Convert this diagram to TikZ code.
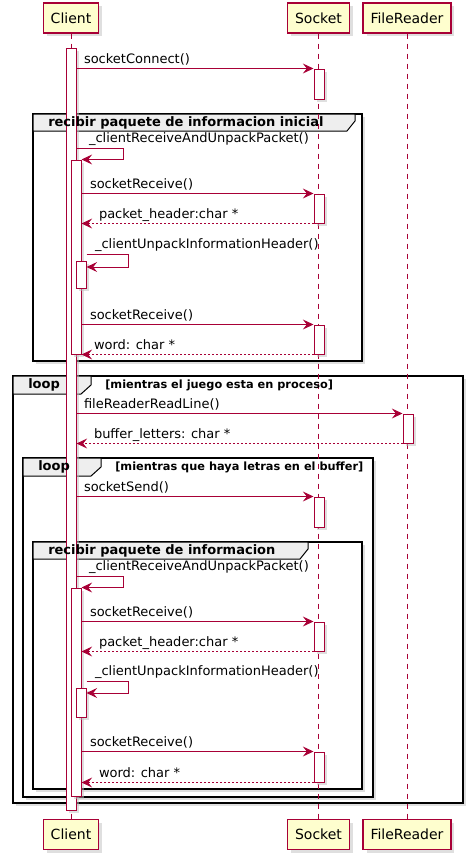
\documentclass[tikz,border=0pt]{standalone}
\usepackage{fontspec}
\setmainfont{DejaVu Sans}
\usepackage{xcolor}
\usetikzlibrary{arrows.meta, positioning, fit, shadows}
\definecolor{umlred}{HTML}{A80036}
\definecolor{umlfill}{HTML}{FEFECE}
\definecolor{tabgray}{HTML}{EEEEEE}

\begin{document}
\begin{tikzpicture}[x=0.75pt, y=-0.75pt,
    shad/.style={drop shadow={shadow xshift=2.5pt, shadow yshift=-2.5pt, fill=black!25}},
    actor/.style={draw=umlred, line width=1.1pt, fill=umlfill, minimum height=22.5pt,
      inner xsep=5.5pt, font=\fontsize{10.5}{12}\selectfont, shad},
    life/.style={umlred, line width=0.75pt, dash pattern=on 3.75pt off 3.75pt},
    act/.style={draw=umlred, line width=0.75pt, fill=white, inner sep=0pt, shad},
    msg/.style={umlred, line width=0.75pt, -{Stealth[length=8pt, width=7.5pt, inset=3pt]}},
    ret/.style={msg, dash pattern=on 1.5pt off 1.5pt},
    lbl/.style={font=\fontsize{9.75}{11}\selectfont, text=black, inner xsep=0pt,
      inner ysep=1.5pt, text height=7.5pt, text depth=2pt, anchor=south west},
    frame/.style={draw=black, line width=1.5pt, fill=white, shad},
    tab/.style={draw=black, line width=0.75pt, fill=tabgray},
    ftitle/.style={font=\fontsize{9.75}{11}\selectfont\bfseries, anchor=west, inner sep=0pt},
    guard/.style={font=\fontsize{8.5}{10}\selectfont\bfseries, anchor=west, inner sep=0pt},
  ]
    \useasboundingbox (0,0) rectangle (473,860);

    % frames
    \draw[frame] (33,114) rectangle (362,361);
    \draw[tab] (33,114) -- (355,114) -- (355,121) -- (347,131) -- (33,131) -- cycle;

    \draw[frame] (13,376) rectangle (463,803);
    \draw[tab] (13,376) -- (91,376) -- (91,385) -- (81,394) -- (13,394) -- cycle;

    \draw[frame] (23,458) rectangle (373,797);
    \draw[tab] (23,458) -- (101,458) -- (101,467) -- (91,476) -- (23,476) -- cycle;

    \draw[frame] (33,542) rectangle (362,789);
    \draw[tab] (33,542) -- (308,542) -- (308,549) -- (300,559) -- (33,559) -- cycle;

    % participants
    \node[actor] (cT) at (71,18) {Client};
    \node[actor] (sT) at (318.5,18) {Socket};
    \node[actor] (fT) at (407,18) {FileReader};
    \node[actor] (cB) at (71,834.5) {Client};
    \node[actor] (sB) at (318.5,834.5) {Socket};
    \node[actor] (fB) at (407,834.5) {FileReader};

    \draw[life] (cT) -- (cB);
    \draw[life] (sT) -- (sB);
    \draw[life] (fT) -- (fB);

    % activations
    \node[act, fit={(66,48) (76,810)}] (c0) {};
    \node[act, fit={(71,160) (81,354)}] (c1) {};
    \node[act, fit={(76,261) (86,288)}] (c2) {};
    \node[act, fit={(71,588) (81,796)}] (c3) {};
    \node[act, fit={(76,688) (86,717)}] (c4) {};
    \node[act, fit={(314,69) (324,99)}] (s1) {};
    \node[act, fit={(314,194) (324,223)}] (s2) {};
    \node[act, fit={(314,325) (324,354)}] (s3) {};
    \node[act, fit={(314,497) (324,527)}] (s4) {};
    \node[act, fit={(314,622) (324,651)}] (s5) {};
    \node[act, fit={(314,752) (324,782)}] (s6) {};
    \node[act, fit={(403,414) (413,443)}] (f1) {};

    % frame titles
    \node[ftitle] (t1) at (48,122.5) {recibir paquete de informacion inicial};
    \node[ftitle] (l1) at (28,385) {loop};
    \node[guard] (g1) at (105,385) {[mientras el juego esta en proceso]};
    \node[ftitle] (l2) at (38,467) {loop};
    \node[guard] (g2) at (115,467) {[mientras que haya letras en el buffer]};
    \node[ftitle] (t2) at (48,550.5) {recibir paquete de informacion};

    % messages
    \draw[msg] (c0.east |- s1.north) -- node[lbl, pos=0, xshift=5.25pt] {socketConnect()} (s1.north west);

    \draw[msg] (c0.east |- 0,148) node[lbl, xshift=9pt] {\_clientReceiveAndUnpackPacket()}
      -- ++(47,0) |- (c1.north east);
    \draw[msg] (c1.east |- s2.north) -- node[lbl, pos=0, xshift=6pt] {socketReceive()} (s2.north west);
    \draw[ret] (s2.south west) -- node[lbl, pos=1, xshift=12.75pt] {packet\_header:char *} (c1.east |- s2.south);
    \draw[msg] (c2.east |- 0,254) node[lbl, xshift=6pt] {\_clientUnpackInformationHeader()}
      -- ++(42,0) |- (c2.east |- 0,267);
    \draw[msg] (c1.east |- s3.north) -- node[lbl, pos=0, xshift=6pt] {socketReceive()} (s3.north west);
    \draw[ret] (s3.south west) -- node[lbl, pos=1, xshift=9pt] {word: char *} (c1.east |- s3.south);

    \draw[msg] (c0.east |- f1.north) -- node[lbl, pos=0, xshift=5.25pt] {fileReaderReadLine()} (f1.north west);
    \draw[ret] (f1.south west) -- node[lbl, pos=1, xshift=12.75pt] {buffer\_letters: char *} (c0.east |- f1.south);
    \draw[msg] (c0.east |- s4.north) -- node[lbl, pos=0, xshift=5.25pt] {socketSend()} (s4.north west);

    \draw[msg] (c0.east |- 0,576) node[lbl, xshift=9pt] {\_clientReceiveAndUnpackPacket()}
      -- ++(47,0) |- (c3.north east);
    \draw[msg] (c3.east |- s5.north) -- node[lbl, pos=0, xshift=6pt] {socketReceive()} (s5.north west);
    \draw[ret] (s5.south west) -- node[lbl, pos=1, xshift=12.75pt] {packet\_header:char *} (c3.east |- s5.south);
    \draw[msg] (c4.east |- 0,681) node[lbl, xshift=6pt] {\_clientUnpackInformationHeader()}
      -- ++(42,0) |- (c4.east |- 0,693);
    \draw[msg] (c3.east |- s6.north) -- node[lbl, pos=0, xshift=6pt] {socketReceive()} (s6.north west);
    \draw[ret] (s6.south west) -- node[lbl, pos=1, xshift=12.75pt] {word: char *} (c3.east |- s6.south);
\end{tikzpicture}
\end{document}
